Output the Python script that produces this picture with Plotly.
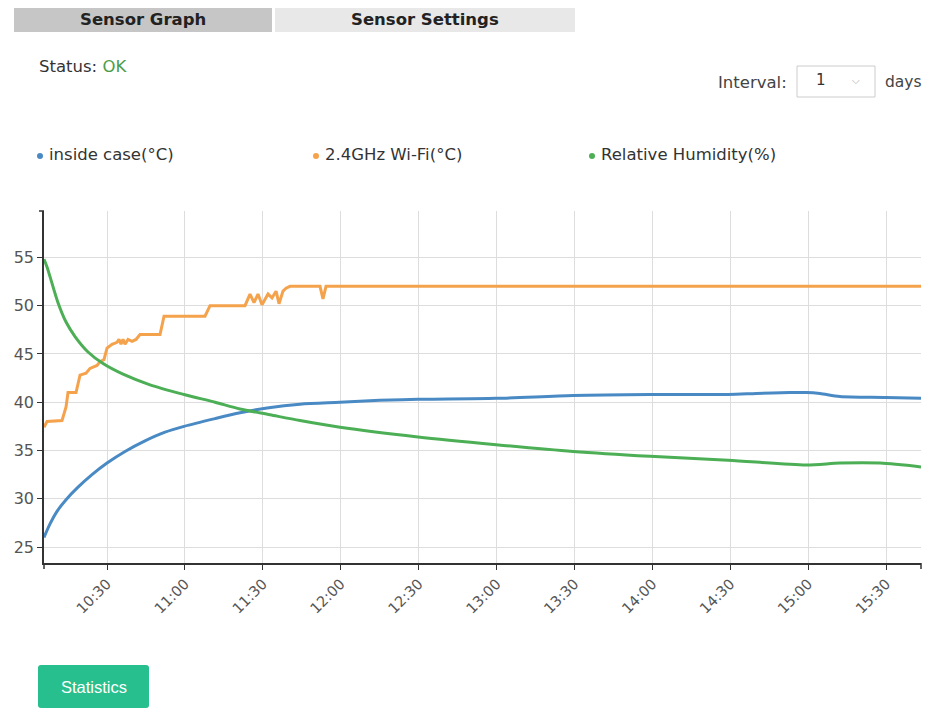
import plotly.graph_objects as go

# ---------------- data ----------------
DAY = "2023-05-12 "

time_inside = ["10:05:44", "10:08:03", "10:10:45", "10:14:13", "10:18:50", "10:24:13",
               "10:30:00", "10:36:56", "10:44:38", "10:52:20", "10:59:39", "11:11:35",
               "11:21:13", "11:31:37", "11:44:19", "11:59:43", "12:15:00", "12:29:50",
               "12:59:49", "13:29:28", "13:59:07", "14:29:07", "14:40:00", "14:53:00",
               "14:59:09", "15:04:32", "15:12:14", "15:29:57", "15:43:26"]
inside_case = [26.0, 27.4, 28.7, 29.9, 31.2, 32.5,
               33.7, 34.9, 36.0, 36.9, 37.5, 38.3,
               38.9, 39.4, 39.8, 40.0, 40.2, 40.3,
               40.4, 40.7, 40.8, 40.8, 40.9, 41.0,
               41.0, 40.9, 40.6, 40.5, 40.4]

time_wifi = ["10:05:44", "10:06:54", "10:12:40", "10:14:13", "10:14:59", "10:16:55",
             "10:18:04", "10:19:36", "10:21:55", "10:23:27", "10:26:09", "10:27:18",
             "10:28:50", "10:30:00", "10:31:56", "10:33:51", "10:34:37", "10:35:23",
             "10:36:10", "10:36:56", "10:38:05", "10:39:38", "10:41:10", "10:42:42",
             "10:50:25", "10:51:57", "11:07:44", "11:09:40", "11:23:08", "11:25:04",
             "11:26:36", "11:28:08", "11:29:41", "11:32:00", "11:33:32", "11:35:05",
             "11:36:14", "11:37:46", "11:38:56", "11:40:28", "11:52:01", "11:53:10",
             "11:54:20", "15:43:26"]
wifi_24ghz = [37.4, 38.0, 38.1, 39.5, 41.0, 41.0,
              41.0, 42.8, 43.0, 43.5, 43.8, 44.2,
              44.4, 45.6, 46.0, 46.2, 46.5, 46.0,
              46.5, 46.0, 46.5, 46.3, 46.5, 47.0,
              47.0, 48.9, 48.9, 50.0, 50.0, 51.2,
              50.3, 51.2, 50.1, 51.2, 50.8, 51.5,
              50.2, 51.5, 51.8, 52.0, 52.0, 50.7,
              52.0, 52.0]

time_humidity = ["10:05:44", "10:06:54", "10:08:03", "10:11:08", "10:14:13", "10:17:41",
                 "10:22:41", "10:28:28", "10:36:10", "10:46:33", "10:59:39", "11:11:35",
                 "11:21:13", "11:32:46", "11:44:19", "11:59:43", "12:29:45", "12:59:49",
                 "13:29:28", "13:59:07", "14:29:07", "14:59:09", "15:12:14", "15:27:38",
                 "15:43:26"]
humidity = [54.8, 54.0, 53.0, 50.3, 48.3, 46.8,
            45.2, 44.0, 42.9, 41.8, 40.8, 40.0,
            39.3, 38.7, 38.1, 37.4, 36.4, 35.6,
            34.9, 34.4, 34.0, 33.5, 33.7, 33.7,
            33.3]

series_names = ["inside case(°C)", "2.4GHz Wi-Fi(°C)", "Relative Humidity(%)"]
y_ticks = [25, 30, 35, 40, 45, 50, 55]

# ---------------- styles ----------------
BLUE = "#4a8ac4"
ORANGE = "#f5a24c"
GREEN = "#4caf55"
FONT = "DejaVu Sans"

W, H = 929, 712
L, R, T, B = 44, 921, 211, 563


def px(x):
    return (x - L) / (R - L)


def py(y):
    return (B - y) / (B - T)


fig = go.Figure()
for tx, vals, col, name, shape in [(time_inside, inside_case, BLUE, series_names[0], "spline"),
                                   (time_wifi, wifi_24ghz, ORANGE, series_names[1], "linear"),
                                   (time_humidity, humidity, GREEN, series_names[2], "spline")]:
    fig.add_trace(go.Scatter(x=[DAY + t for t in tx], y=vals, mode="lines",
                             line=dict(color=col, width=3, shape=shape, smoothing=0.8),
                             name=name, hoverinfo="x+y+name"))

shapes = []
annotations = []

# tabs
shapes.append(dict(type="rect", xref="paper", yref="paper", x0=px(14), x1=px(272),
                   y0=py(8), y1=py(32), fillcolor="#c6c6c6", line=dict(width=0), layer="above"))
shapes.append(dict(type="rect", xref="paper", yref="paper", x0=px(275), x1=px(575),
                   y0=py(8), y1=py(32), fillcolor="#e8e8e8", line=dict(width=0), layer="above"))
annotations.append(dict(text="<b>Sensor Graph</b>", x=px(143), y=py(20), xref="paper", yref="paper",
                        showarrow=False, font=dict(family=FONT, size=16.5, color="#222"),
                        xanchor="center", yanchor="middle"))
annotations.append(dict(text="<b>Sensor Settings</b>", x=px(425), y=py(20), xref="paper", yref="paper",
                        showarrow=False, font=dict(family=FONT, size=16.5, color="#222"),
                        xanchor="center", yanchor="middle"))

# status
annotations.append(dict(text="Status: <span style='color:#4a9e4a'>OK</span>", x=px(37), y=py(66),
                        xref="paper", yref="paper", showarrow=False,
                        font=dict(family=FONT, size=16.5, color="#333"),
                        xanchor="left", yanchor="middle"))

# interval selector
annotations.append(dict(text="Interval:", x=px(789), y=py(82), xref="paper", yref="paper",
                        showarrow=False, font=dict(family=FONT, size=16.5, color="#444"),
                        xanchor="right", yanchor="middle"))
shapes.append(dict(type="rect", xref="paper", yref="paper", x0=px(797), x1=px(875),
                   y0=py(66), y1=py(97), fillcolor="white", line=dict(color="#cccccc", width=1),
                   layer="above"))
annotations.append(dict(text="1", x=px(821), y=py(80), xref="paper", yref="paper",
                        showarrow=False, font=dict(family=FONT, size=15, color="#333"),
                        xanchor="center", yanchor="middle"))
annotations.append(dict(text="⌵", x=px(856), y=py(81), xref="paper", yref="paper",
                        showarrow=False, font=dict(family=FONT, size=10, color="#aaa"),
                        xanchor="center", yanchor="middle"))
annotations.append(dict(text="days", x=px(883), y=py(82), xref="paper", yref="paper",
                        showarrow=False, font=dict(family=FONT, size=15.5, color="#444"),
                        xanchor="left", yanchor="middle"))

# legend (custom)
for dot_x, col, name in [(40, BLUE, series_names[0]), (316, ORANGE, series_names[1]),
                         (592, GREEN, series_names[2])]:
    shapes.append(dict(type="circle", xref="paper", yref="paper",
                       x0=px(dot_x - 3), x1=px(dot_x + 3), y0=py(153), y1=py(159),
                       fillcolor=col, line=dict(width=0)))
    annotations.append(dict(text=name, x=px(dot_x + 7), y=py(155), xref="paper", yref="paper",
                            showarrow=False, font=dict(family=FONT, size=16.5, color="#333"),
                            xanchor="left", yanchor="middle"))

# axis end ticks
shapes.append(dict(type="line", xref="paper", yref="paper", x0=px(39), x1=px(44),
                   y0=py(211), y1=py(211), line=dict(color="#333", width=1.5)))
shapes.append(dict(type="line", xref="paper", yref="paper", x0=px(44), x1=px(44),
                   y0=py(563), y1=py(569), line=dict(color="#333", width=1.5)))
shapes.append(dict(type="line", xref="paper", yref="paper", x0=px(921), x1=px(921),
                   y0=py(563), y1=py(569), line=dict(color="#333", width=1.5)))

# statistics button
bx0, bx1, by0, by1, r = 38, 149, 665, 708, 3
path = (f"M {px(bx0 + r)},{py(by0)} L {px(bx1 - r)},{py(by0)} Q {px(bx1)},{py(by0)} {px(bx1)},{py(by0 + r)} "
        f"L {px(bx1)},{py(by1 - r)} Q {px(bx1)},{py(by1)} {px(bx1 - r)},{py(by1)} "
        f"L {px(bx0 + r)},{py(by1)} Q {px(bx0)},{py(by1)} {px(bx0)},{py(by1 - r)} "
        f"L {px(bx0)},{py(by0 + r)} Q {px(bx0)},{py(by0)} {px(bx0 + r)},{py(by0)} Z")
shapes.append(dict(type="path", xref="paper", yref="paper", path=path,
                   fillcolor="#27bf8d", line=dict(width=0), layer="above"))
annotations.append(dict(text="Statistics", x=px(93.5), y=py(686.5), xref="paper", yref="paper",
                        showarrow=False, font=dict(family="Liberation Sans", size=16.5, color="white"),
                        xanchor="center", yanchor="middle"))

fig.update_layout(
    width=W, height=H,
    margin=dict(l=L, r=W - R, t=T, b=H - B, pad=0),
    paper_bgcolor="white", plot_bgcolor="white",
    showlegend=False,
    shapes=shapes, annotations=annotations,
    font=dict(family=FONT, color="#444"),
    xaxis=dict(type="date",
               range=[DAY + "10:05:44", DAY + "15:43:26"],
               tick0=DAY + "10:30", dtick=30 * 60 * 1000, tickformat="%H:%M",
               tickangle=-45, tickfont=dict(family=FONT, size=14.5, color="#555"),
               showgrid=True, gridcolor="#dddddd", gridwidth=1,
               showline=True, linecolor="#333", linewidth=1.5,
               ticks="outside", ticklen=5, tickcolor="#333", tickwidth=1,
               zeroline=False, fixedrange=True),
    yaxis=dict(range=[23.35, 59.8], tickvals=y_ticks,
               tickfont=dict(family=FONT, size=16, color="#555"),
               showgrid=True, gridcolor="#dddddd", gridwidth=1,
               showline=True, linecolor="#333", linewidth=1.5,
               ticks="outside", ticklen=5, tickcolor="#333", tickwidth=1,
               zeroline=False, fixedrange=True),
)

fig.write_html("out.html")
